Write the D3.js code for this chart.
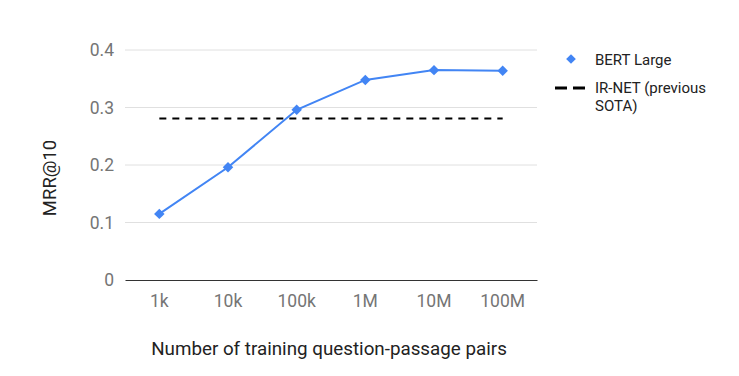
<!DOCTYPE html>
<html>
<head>
<meta charset="utf-8">
<script src="https://cdn.jsdelivr.net/npm/d3@7"></script>
<style>
  body { margin: 0; background: #fff; }
  svg text { font-family: Roboto, "Noto Sans", sans-serif; }
</style>
</head>
<body>
<svg id="chart" width="739" height="376"></svg>
<script>
// ---- data ----
var sizes = ["1k", "10k", "100k", "1M", "10M", "100M"];
var bertLarge = [0.115, 0.196, 0.296, 0.348, 0.365, 0.364];
var irNet = [0.281, 0.281, 0.281, 0.281, 0.281, 0.281];
var yTicks = [0, 0.1, 0.2, 0.3, 0.4];

var svg = d3.select("#chart");
var plotLeft = 125, plotRight = 537, plotTop = 50, plotBottom = 280;

var x = d3.scaleBand().domain(sizes).range([plotLeft, plotRight]);
var y = d3.scaleLinear().domain([0, 0.4]).range([plotBottom, plotTop]);
var cx = function(d) { return x(d) + x.bandwidth() / 2; };

// gridlines
svg.append("g").selectAll("line")
  .data(yTicks.slice(1))
  .enter().append("line")
  .attr("x1", plotLeft).attr("x2", plotRight)
  .attr("y1", function(d) { return y(d); })
  .attr("y2", function(d) { return y(d); })
  .attr("stroke", "#e0e0e0").attr("stroke-width", 1);

// y axis labels
var yAxis = svg.append("g")
  .attr("transform", "translate(" + plotLeft + ",0)")
  .call(d3.axisLeft(y).tickValues(yTicks).tickSize(0).tickPadding(11)
    .tickFormat(function(d) { return d === 0 ? "0" : d3.format(".1f")(d); }));
yAxis.select(".domain").remove();
yAxis.selectAll("text").attr("fill", "#757575").style("font-size", "17.5px");

// x axis
var xAxis = svg.append("g")
  .attr("transform", "translate(0," + plotBottom + ")")
  .call(d3.axisBottom(x).tickSize(0).tickPadding(15));
xAxis.select(".domain").attr("stroke", "#333").attr("stroke-width", 1.2);
xAxis.selectAll("text").attr("fill", "#757575").style("font-size", "17.5px");

// IR-NET dashed line
svg.append("path")
  .datum(irNet)
  .attr("fill", "none")
  .attr("stroke", "#000")
  .attr("stroke-width", 2)
  .attr("stroke-dasharray", "7,6")
  .attr("d", d3.line()
    .x(function(d, i) { return cx(sizes[i]); })
    .y(function(d) { return y(d); }));

// BERT line
svg.append("path")
  .datum(bertLarge)
  .attr("fill", "none")
  .attr("stroke", "#4285f4")
  .attr("stroke-width", 2)
  .attr("d", d3.line()
    .x(function(d, i) { return cx(sizes[i]); })
    .y(function(d) { return y(d); }));

var diamond = d3.symbol().type(d3.symbolDiamond2).size(70);
svg.append("g").selectAll("path")
  .data(bertLarge)
  .enter().append("path")
  .attr("d", diamond)
  .attr("fill", "#4285f4")
  .attr("transform", function(d, i) {
    return "translate(" + cx(sizes[i]) + "," + y(d) + ")";
  });

// axis titles
svg.append("text")
  .attr("x", 329).attr("y", 355)
  .attr("text-anchor", "middle")
  .attr("fill", "#222")
  .style("font-size", "18.8px")
  .text("Number of training question-passage pairs");

svg.append("text")
  .attr("transform", "translate(56,178) rotate(-90)")
  .attr("text-anchor", "middle")
  .attr("fill", "#222")
  .style("font-size", "18.5px")
  .text("MRR@10");

// legend
var legend = svg.append("g");
legend.append("path")
  .attr("d", d3.symbol().type(d3.symbolDiamond2).size(60))
  .attr("fill", "#4285f4")
  .attr("transform", "translate(571,59)");
legend.append("text")
  .attr("x", 595).attr("y", 65)
  .attr("fill", "#222").style("font-size", "15px")
  .text("BERT Large");
legend.append("line")
  .attr("x1", 555).attr("x2", 587)
  .attr("y1", 88).attr("y2", 88)
  .attr("stroke", "#000").attr("stroke-width", 3)
  .attr("stroke-dasharray", "12,6");
legend.append("text")
  .attr("x", 595).attr("y", 93)
  .attr("fill", "#222").style("font-size", "15px")
  .text("IR-NET (previous");
legend.append("text")
  .attr("x", 595).attr("y", 111)
  .attr("fill", "#222").style("font-size", "15px")
  .text("SOTA)");
</script>
</body>
</html>
